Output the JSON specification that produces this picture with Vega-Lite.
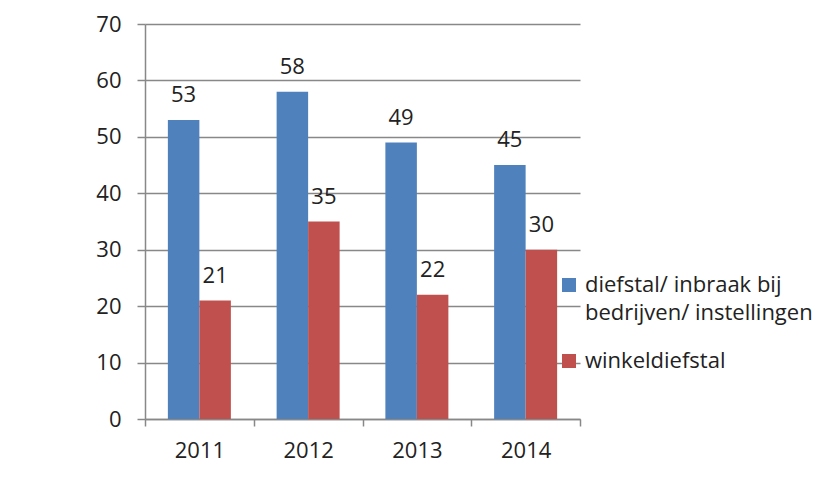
{
  "$schema": "https://vega.github.io/schema/vega-lite/v6.json",
  "width": 435,
  "height": 395,
  "autosize": {"type": "none"},
  "padding": {"left": 145, "top": 24, "right": 244, "bottom": 69},
  "background": "white",
  "config": {
    "view": {"stroke": null},
    "font": "Open Sans",
    "style": {"guide-label": {"lineHeight": 28}}
  },
  "data": {
    "values": [
      {"jaar": "2011", "reeks": "diefstal/ inbraak bij bedrijven/ instellingen", "waarde": 53},
      {"jaar": "2011", "reeks": "winkeldiefstal", "waarde": 21},
      {"jaar": "2012", "reeks": "diefstal/ inbraak bij bedrijven/ instellingen", "waarde": 58},
      {"jaar": "2012", "reeks": "winkeldiefstal", "waarde": 35},
      {"jaar": "2013", "reeks": "diefstal/ inbraak bij bedrijven/ instellingen", "waarde": 49},
      {"jaar": "2013", "reeks": "winkeldiefstal", "waarde": 22},
      {"jaar": "2014", "reeks": "diefstal/ inbraak bij bedrijven/ instellingen", "waarde": 45},
      {"jaar": "2014", "reeks": "winkeldiefstal", "waarde": 30}
    ]
  },
  "encoding": {
    "x": {
      "field": "jaar",
      "type": "nominal",
      "scale": {"paddingInner": 0, "paddingOuter": 0},
      "axis": {
        "title": null,
        "labelAngle": 0,
        "tickBand": "extent",
        "tickSize": 7,
        "tickWidth": 1.5,
        "tickColor": "#888888",
        "domainColor": "#888888",
        "domainWidth": 1.5,
        "labelFontSize": 22,
        "labelColor": "#222222",
        "labelPadding": 14,
        "grid": false
      }
    },
    "xOffset": {
      "field": "reeks",
      "type": "nominal",
      "sort": ["diefstal/ inbraak bij bedrijven/ instellingen", "winkeldiefstal"],
      "scale": {"paddingInner": 0, "paddingOuter": 0.726}
    },
    "y": {
      "field": "waarde",
      "type": "quantitative",
      "scale": {"domain": [0, 70]},
      "axis": {
        "title": null,
        "values": [0, 10, 20, 30, 40, 50, 60, 70],
        "tickSize": 8,
        "tickWidth": 1.5,
        "tickColor": "#888888",
        "domainColor": "#888888",
        "domainWidth": 1.5,
        "gridColor": "#888888",
        "gridWidth": 1.5,
        "labelFontSize": 22,
        "labelColor": "#222222",
        "labelPadding": 16
      }
    }
  },
  "layer": [
    {
      "mark": {"type": "bar"},
      "encoding": {
        "color": {
          "field": "reeks",
          "type": "nominal",
          "sort": ["diefstal/ inbraak bij bedrijven/ instellingen", "winkeldiefstal"],
          "scale": {"range": ["#4F81BD", "#C0504D"]},
          "legend": {
            "title": null,
            "orient": "none",
            "legendX": 413,
            "legendY": 250,
            "symbolType": "square",
            "symbolSize": 196,
            "symbolStrokeWidth": 0,
            "labelFontSize": 22,
            "labelColor": "#222222",
            "labelLimit": 400,
            "labelOffset": 5,
            "rowPadding": 26,
            "labelExpr": "datum.label == 'winkeldiefstal' ? datum.label : ['diefstal/ inbraak bij', 'bedrijven/ instellingen']"
          }
        }
      }
    },
    {
      "mark": {"type": "text", "dy": -25, "fontSize": 22, "color": "#222222", "baseline": "middle"},
      "encoding": {"text": {"field": "waarde", "type": "quantitative"}}
    }
  ]
}
